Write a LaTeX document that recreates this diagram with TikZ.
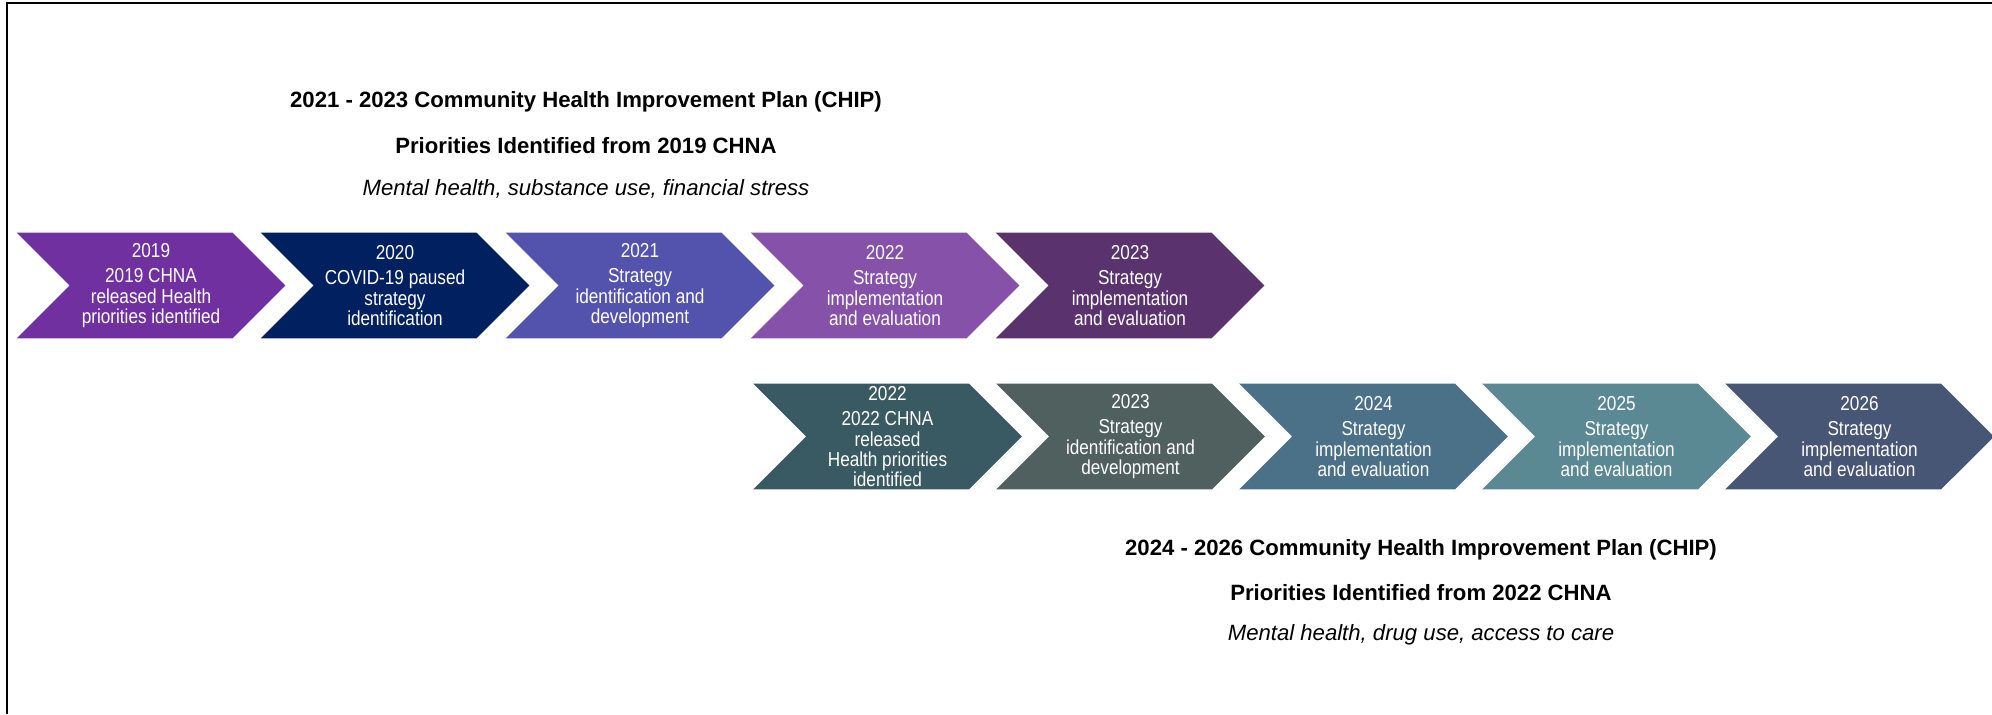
\documentclass[tikz,border=0pt]{standalone}
\usepackage{fontspec}
\setmainfont{Liberation Sans}
\newfontfamily\narrowsans[FakeStretch=0.85]{Liberation Sans}
\usepackage{tikz}
\usetikzlibrary{shapes.symbols,positioning}

\definecolor{purpA}{HTML}{7030A0}
\definecolor{navyA}{HTML}{002060}
\definecolor{violA}{HTML}{5352AD}
\definecolor{purpB}{HTML}{8651A8}
\definecolor{plumA}{HTML}{5A336E}
\definecolor{tealA}{HTML}{3A5A63}
\definecolor{greyA}{HTML}{50605F}
\definecolor{steelA}{HTML}{4A7188}
\definecolor{tealB}{HTML}{5A8893}
\definecolor{slateA}{HTML}{475675}

\begin{document}
\begin{tikzpicture}[x=0.02cm,y=-0.02cm,
    chev/.style={signal, signal from=west, signal to=east,
      minimum width=5.38cm, minimum height=2.12cm,
      inner sep=0pt, outer sep=0pt, draw=none,
      text=white, align=center,
      font=\narrowsans\fontsize{11.5}{11.5}\selectfont},
    heading/.style={font=\bfseries\fontsize{12.6}{14}\selectfont},
    subhead/.style={font=\itshape\fontsize{12.6}{14}\selectfont}]
      \useasboundingbox (0,0) rectangle (1992,714);
      % frame
      \draw[line width=1.2pt] (7,714) -- (7,3) -- (1992,3);
      % Add the headings
      \node[heading] (chipA) at (586,102) {2021 - 2023 Community Health Improvement Plan (CHIP)};
      \node[heading] (prioA) at (586,146) {Priorities Identified from 2019 CHNA};
      \node[subhead] (listA) at (586,189) {Mental health, substance use, financial stress};
      \node[heading] (chipB) at (1421,550) {2024 - 2026 Community Health Improvement Plan (CHIP)};
      \node[heading] (prioB) at (1421,593) {Priorities Identified from 2022 CHNA};
      \node[subhead] (listB) at (1421,635) {Mental health, drug use, access to care};
      % First plan, 2019 - 2023
      \node[chev, fill=purpA] (y19) at (151,285.5)
        {2019\\[3pt]2019 CHNA\\released Health\\priorities identified};
      \node[chev, fill=navyA] (y20) at (395,285.5)
        {2020\\[3pt]COVID-19 paused\\strategy\\identification};
      \node[chev, fill=violA] (y21) at (640,285.5)
        {2021\\[3pt]Strategy\\identification and\\development};
      \node[chev, fill=purpB] (y22) at (885,285.5)
        {2022\\[3pt]Strategy\\implementation\\and evaluation};
      \node[chev, fill=plumA] (y23) at (1130,285.5)
        {2023\\[3pt]Strategy\\implementation\\and evaluation};
      % Second plan, 2022 - 2026
      \node[chev, fill=tealA] (z22) at (887.5,436.5)
        {2022\\[3pt]2022 CHNA\\released\\Health priorities\\identified};
      \node[chev, fill=greyA] (z23) at (1130.5,436.5)
        {2023\\[3pt]Strategy\\identification and\\development};
      \node[chev, fill=steelA] (z24) at (1373.5,436.5)
        {2024\\[3pt]Strategy\\implementation\\and evaluation};
      \node[chev, fill=tealB] (z25) at (1616.5,436.5)
        {2025\\[3pt]Strategy\\implementation\\and evaluation};
      \node[chev, fill=slateA] (z26) at (1859.5,436.5)
        {2026\\[3pt]Strategy\\implementation\\and evaluation};
\end{tikzpicture}
\end{document}
